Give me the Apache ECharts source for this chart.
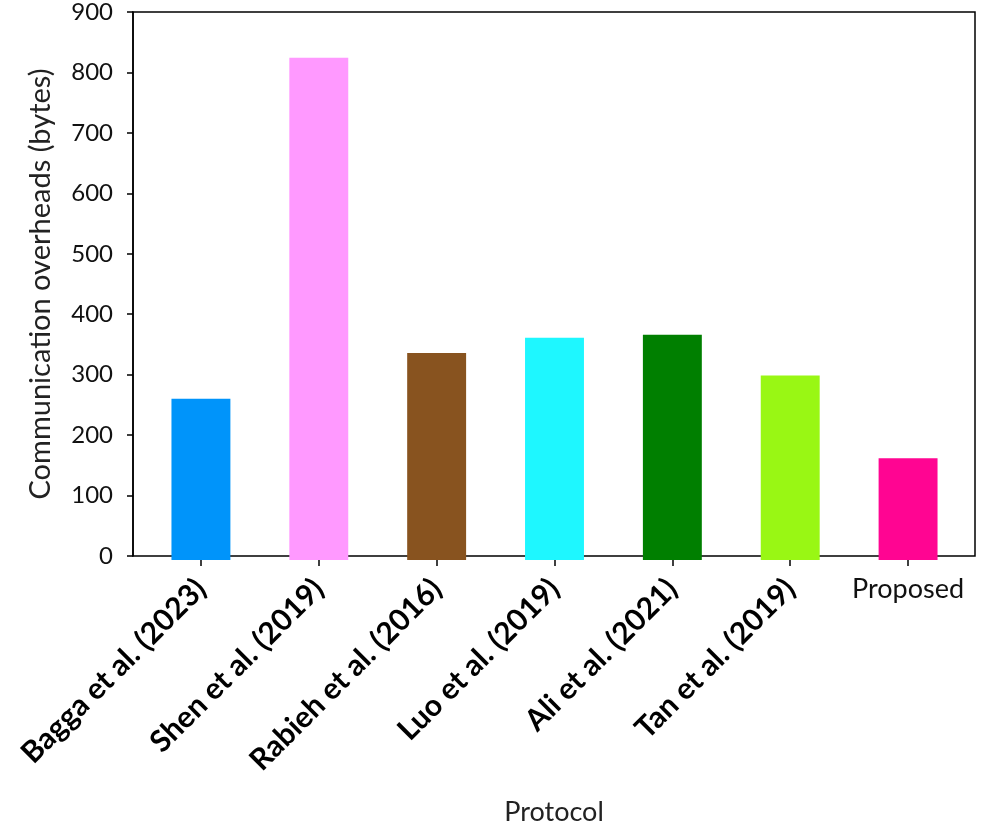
<!DOCTYPE html>
<html>
<head>
<meta charset="utf-8">
<script src="https://cdn.jsdelivr.net/npm/echarts@6/dist/echarts.min.js"></script>
<style>html,body{margin:0;padding:0;background:#fff}#c{width:982px;height:831px}</style>
</head>
<body>
<div id="c"></div>
<script>
const categories = ['Bagga et al. (2023)', 'Shen et al. (2019)', 'Rabieh et al. (2016)', 'Luo et al. (2019)', 'Ali et al. (2021)', 'Tan et al. (2019)', 'Proposed'];
const overheads = [265, 825, 340, 365, 370, 303, 167];
const barColors = ['#0094FA', '#FF99FF', '#88531F', '#1EF7FF', '#007F00', '#99F714', '#FF0592'];
const yTicks = [0, 100, 200, 300, 400, 500, 600, 700, 800, 900];

const FONT = 'Lato, "Open Sans", sans-serif';
const chart = echarts.init(document.getElementById('c'), null, {renderer: 'canvas'});
chart.setOption({
  backgroundColor: '#fff',
  animation: false,
  grid: [
    {left: 133, right: 7, top: 12, bottom: 271, show: true, borderColor: '#000', borderWidth: 1.5, backgroundColor: 'transparent'},
    {left: 142, right: 15, top: 12, bottom: 271}
  ],
  xAxis: [
    {type: 'value', gridIndex: 0, min: 0, max: 1, show: true,
     axisLine: {show: false}, axisTick: {show: false}, axisLabel: {show: false}, splitLine: {show: false},
     name: 'Protocol', nameLocation: 'middle', nameGap: 243,
     nameTextStyle: {fontFamily: FONT, fontSize: 27, color: '#222'}},
    {type: 'category', gridIndex: 1, data: categories,
     axisLine: {show: false},
     axisTick: {show: true, alignWithLabel: true, length: 6, lineStyle: {color: '#000', width: 1.5}},
     axisLabel: {interval: 0, rotate: 45, margin: 24, fontFamily: FONT, fontSize: 30, fontWeight: 'bold', color: '#000',
       formatter: v => v === 'Proposed' ? '' : v}},
    {type: 'category', gridIndex: 1, data: categories, position: 'bottom',
     axisLine: {show: false}, axisTick: {show: false},
     axisLabel: {interval: 0, margin: 16, fontFamily: FONT, fontSize: 27, color: '#111',
       formatter: v => v === 'Proposed' ? v : ''}}
  ],
  yAxis: [
    {type: 'value', gridIndex: 0, min: yTicks[0], max: yTicks[yTicks.length - 1], interval: 100,
     axisLine: {show: true, lineStyle: {color: '#000', width: 1.5}},
     axisTick: {show: true, length: 6, lineStyle: {color: '#000', width: 1.5}},
     axisLabel: {margin: 20, fontFamily: FONT, fontSize: 24, color: '#111'},
     splitLine: {show: false},
     name: 'Communication overheads (bytes)', nameLocation: 'middle', nameGap: 78, nameRotate: 90,
     nameTextStyle: {fontFamily: FONT, fontSize: 29, color: '#222'}},
    {type: 'value', gridIndex: 1, min: yTicks[0], max: yTicks[yTicks.length - 1], show: false, splitLine: {show: false}}
  ],
  series: [{
    type: 'bar', xAxisIndex: 1, yAxisIndex: 1, barWidth: '50%',
    data: overheads.map((v, i) => ({value: v, itemStyle: {color: barColors[i]}}))
  }]
});
</script>
</body>
</html>
